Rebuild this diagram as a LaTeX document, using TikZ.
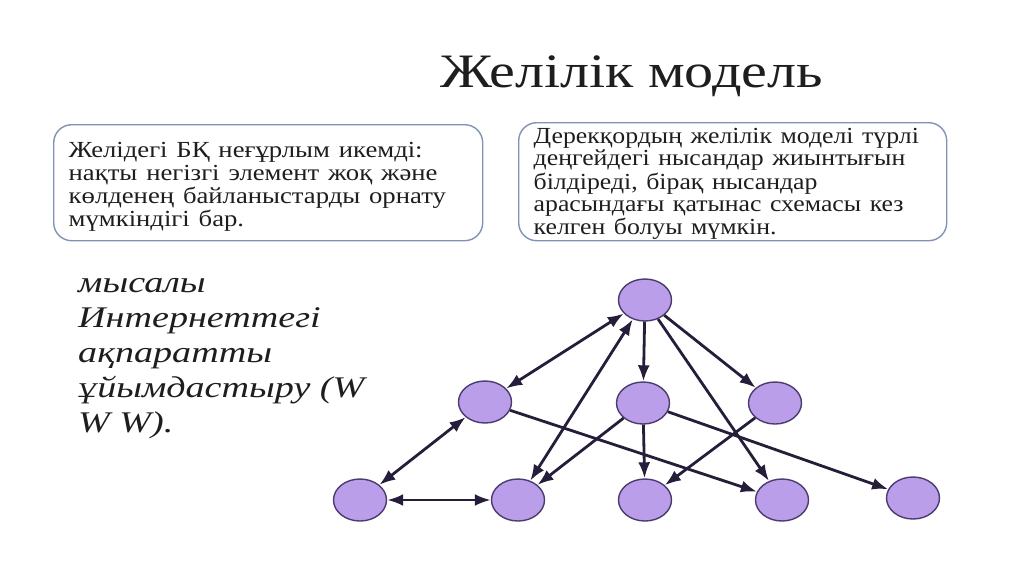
\documentclass[tikz,border=0pt]{standalone}
\usepackage{fontspec}
\setmainfont{Liberation Serif}
\usetikzlibrary{positioning, shapes.geometric, arrows.meta}
\definecolor{boxline}{HTML}{8093B4}
\definecolor{nodefill}{HTML}{BA9EEA}
\definecolor{nodeline}{HTML}{4A3C6C}
\definecolor{edgecol}{HTML}{261D3A}
\definecolor{textgray}{HTML}{1E1E1E}
% horizontally stretched lines of text
\newcommand{\hstretch}[2]{\scalebox{#1}[1]{\begin{tabular}{@{}l@{}}#2\end{tabular}}}

\begin{document}
\begin{tikzpicture}[
		x=1pt, y=-1pt,
		>={Latex[length=16pt, width=12pt]},
		infobox/.style={
			draw=boxline, line width=1.4pt, fill=white, rounded corners=18pt,
			inner xsep=15pt, inner ysep=0pt, text=textgray, anchor=north west,
			font=\fontsize{23}{22.5}\selectfont
		},
		title/.style={font=\fontsize{48}{56}\selectfont, text=textgray, anchor=base west},
		example/.style={anchor=base west, text=textgray,
			font=\itshape\fontsize{30}{35}\selectfont},
		entity/.style={ellipse, draw=nodeline, line width=1.4pt, fill=nodefill,
			minimum width=53pt, minimum height=42pt, inner sep=0pt},
		link/.style={edgecol, line width=2.8pt}
		]
		
		% ==========================================
		% Canvas
		% ==========================================
		\fill[white] (0,0) rectangle (1024,574);
		\useasboundingbox (0,0) rectangle (1024,574);
		
		% Title
		\node[title, inner sep=0pt] (heading) at (440,87) {\scalebox{1.21}[1]{Желілік модель}};
		
		% ==========================================
		% Text boxes
		% ==========================================
		\node[infobox, minimum width=429pt, minimum height=116pt, text width=399pt] (leftbox) at (53,124) {
			\raisebox{-5pt}[\height][\depth]{\hstretch{1.16}{
			Желідегі БҚ неғұрлым икемді:\\
			нақты негізгі элемент жоқ және\\
			көлденең байланыстарды орнату\\
			мүмкіндігі бар.}}
		};
		\node[infobox, minimum width=428pt, minimum height=118pt, text width=398pt] (rightbox) at (518,122) {
			\raisebox{-3pt}[\height][\depth]{\hstretch{1.12}{
			Дерекқордың желілік моделі түрлі\\
			деңгейдегі нысандар жиынтығын\\
			білдіреді, бірақ нысандар\\
			арасындағы қатынас схемасы кез\\
			келген болуы мүмкін.}}
		};
		
		% Example text
		\node[example, inner sep=0pt] (sample) at (78,292) {
			\scalebox{1.27}[1]{\begin{tabular}[t]{@{}l@{}}
			мысалы\\
			Интернеттегі\\
			ақпаратты\\
			ұйымдастыру (W\\
			W W).\end{tabular}}
		};
		
		% ==========================================
		% Network graph
		% ==========================================
		
		% Top level
		\node[entity] (top) at (645,300) {};
		
		% Middle level
		\node[entity] (midleft) at (485,402) {};
		\node[entity] (midcenter) at (643,403) {};
		\node[entity] (midright) at (775,403) {};
		
		% Bottom level
		\node[entity] (low1) at (360,500) {};
		\node[entity] (low2) at (518,500) {};
		\node[entity] (low3) at (645,500) {};
		\node[entity] (low4) at (782,500) {};
		\node[entity] (low5) at (913,498) {};
		
		% Links from the top
		\draw[link, <->] (top) -- (midleft);
		\draw[link, <->] (top) -- (low2);
		\draw[link, ->] (top) -- (midcenter);
		\draw[link, ->] (top) -- (midright);
		\draw[link, ->] (top) -- (low4);
		
		% Links from the middle
		\draw[link, <->] (midleft) -- (low1);
		\draw[link, ->] (midleft) -- (low4);
		\draw[link, ->] (midcenter) -- (low2);
		\draw[link, ->] (midcenter) -- (low3);
		\draw[link, ->] (midcenter) -- (low5);
		\draw[link, ->] (midright) -- (low3);
		
		% Bottom link
		\draw[link, <->] (low1) -- (low2);
		
	\end{tikzpicture}
\end{document}
